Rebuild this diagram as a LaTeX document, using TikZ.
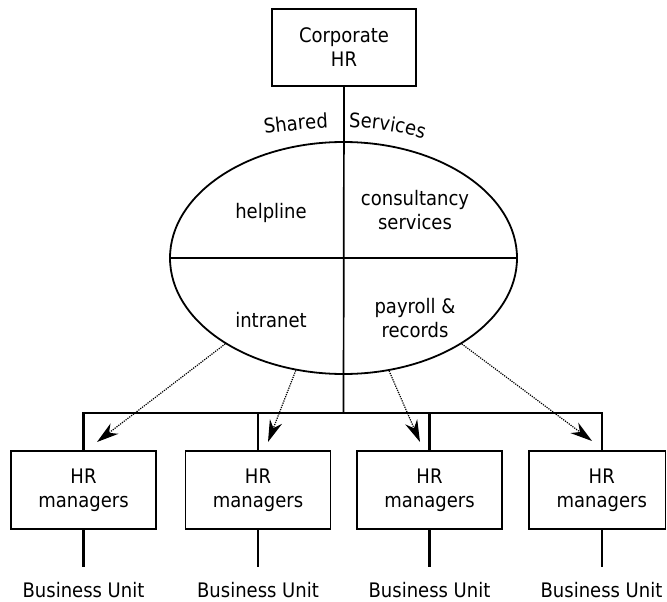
\documentclass[tikz,border=0pt]{standalone}
\usepackage{fontspec}
\setmainfont{DejaVu Sans}[FakeStretch=0.9]
\usetikzlibrary{shapes.geometric,arrows.meta,decorations.text}
\begin{document}
\begin{tikzpicture}[x=1pt,y=-1pt,
  font=\fontsize{20}{24}\selectfont,
  box/.style={draw, line width=1.9pt, minimum width=145pt, minimum height=78pt, inner sep=0pt, align=center},
  bar/.style={line width=2.3pt},
  inner/.style={line width=1.7pt},
  lbl/.style={inner sep=0pt, align=center},
  dotarrow/.style={line width=1.2pt, dash pattern=on 1.2pt off 1.1pt, -{Stealth[length=22pt,width=13pt,inset=7pt]}},
  curvetext/.style={decorate, decoration={text along path, text align=center, text={|\fontsize{20}{23}\selectfont|#1}}}
]
\useasboundingbox (0,0) rectangle (667,602);

% top box
\node[box, minimum width=144pt, minimum height=77pt] (corp) at (344,47.5) {Corporate\\HR};

% shared services ellipse
\node[draw, ellipse, line width=1.8pt, minimum width=347pt, minimum height=232pt, inner sep=0pt] (ss) at (343.5,258) {};
\draw[inner] (ss.west) -- (ss.east);

\coordinate (hub) at (343.5,413);
\draw[inner] (corp.south) -- (hub);

% curved label
\path[curvetext=Shared] (261,134.5) .. controls (285,131) and (308,128.5) .. (332,127.5);
\path[curvetext=Services] (347.5,127.5) .. controls (372,128) and (399,131) .. (425,139.5);

% quadrant texts
\node[lbl, anchor=base] (t1) at (271,218) {helpline};
\node[lbl] (t2) at (415,210) {consultancy\\services};
\node[lbl, anchor=base] (t3) at (271,327) {intranet};
\node[lbl] (t4) at (415,318) {payroll \&\\records};

% HR manager boxes
\node[box] (hr1) at (83.5,490) {HR\\managers};
\node[box] (hr2) at (258,490) {HR\\managers};
\node[box] (hr3) at (429.5,490) {HR\\managers};
\node[box, minimum width=136.5pt] (hr4) at (597.25,490) {\hspace*{9pt}HR\\\hspace*{9pt}managers};

% distribution bar
\coordinate (j4) at (602,413);
\draw[bar] (hr1.north) -- (hr1.north |- hub) -- (j4) -- (j4 |- hr4.north);
\draw[bar] (hr2.north) -- (hr2.north |- hub);
\draw[bar] (hr3.north) -- (hr3.north |- hub);

% business units
\node[anchor=base] (bu1) at (83.5,597) {Business Unit};
\node[anchor=base] (bu2) at (258,597) {Business Unit};
\node[anchor=base] (bu3) at (429.5,597) {Business Unit};
\node[anchor=base] (bu4) at (601.5,597) {Business Unit};
\draw[bar] (hr1.south) -- ++(0,37);
\draw[bar] (hr2.south) -- ++(0,37);
\draw[bar] (hr3.south) -- ++(0,37);
\draw[bar] (j4 |- hr4.south) -- ++(0,37);

% dotted arrows
\coordinate (a1) at (97,442);
\coordinate (a2) at (268,442);
\coordinate (a3) at (420,442);
\coordinate (a4) at (592,441);
\draw[dotarrow] (ss.216.6) -- (a1);
\draw[dotarrow] (ss.247.4) -- (a2);
\draw[dotarrow] (ss.292.2) -- (a3);
\draw[dotarrow] (ss.324) -- (a4);
\end{tikzpicture}
\end{document}
